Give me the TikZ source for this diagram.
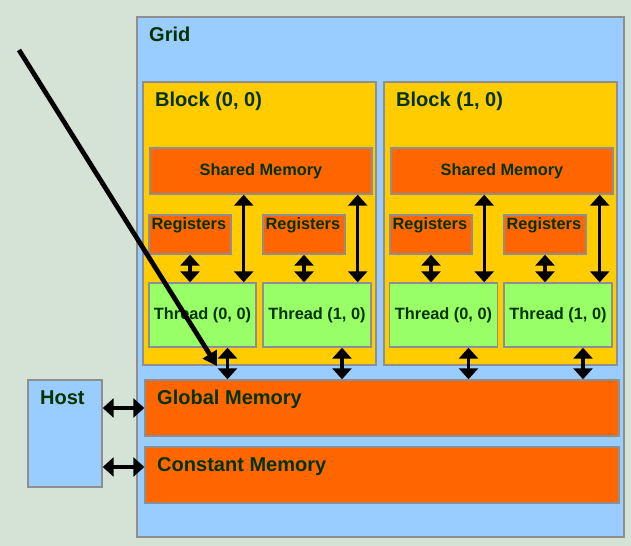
\documentclass[tikz,border=0pt]{standalone}
\usepackage{fontspec}
\setmainfont{Liberation Sans}
\usetikzlibrary{arrows.meta, positioning}
\definecolor{paper}{HTML}{D4E3D5}
\definecolor{gridblue}{HTML}{99CCFF}
\definecolor{blockyellow}{HTML}{FFCC00}
\definecolor{memorange}{HTML}{FF6600}
\definecolor{threadgreen}{HTML}{99FF66}
\definecolor{ink}{HTML}{003300}
\definecolor{edgegray}{HTML}{8F8F8F}

\begin{document}
\begin{tikzpicture}[x=0.02cm, y=-0.02cm,
    box/.style={draw=edgegray, line width=0.8pt, rectangle, inner sep=0pt},
    big/.style={text=ink, inner sep=0pt, font=\bfseries\fontsize{11.4}{13}\selectfont},
    small/.style={text=ink, font=\bfseries\fontsize{9.3}{11}\selectfont},
    title/.style={label={[big, anchor=base west, xshift=0.25cm, yshift=-0.5cm]north west:{#1}}},
    regtitle/.style={label={[small, inner sep=0pt, anchor=base west, xshift=0.06cm, yshift=-0.31cm]north west:Registers}},
    dbl/.style={{Triangle[width=0.38cm, length=0.22cm]}-{Triangle[width=0.38cm, length=0.22cm]}, line width=1.9pt},
    pointer/.style={-{Triangle[width=0.32cm, length=0.28cm]}, line width=2.7pt}]
	  \fill[paper] (0,0) rectangle (631,546);
	  % grid and host
	  \node at (380.5,277) (grid) [box, fill=gridblue, minimum width=9.74cm, minimum height=10.4cm, title=Grid]{};
	  \node at (65,433.5) (host) [box, fill=gridblue, minimum width=1.48cm, minimum height=2.14cm, title=Host]{};
	  % block (0, 0)
	  \node at (259.5,223.5) (blk0) [box, fill=blockyellow, minimum width=4.66cm, minimum height=5.66cm, title={Block (0, 0)}]{};
	  \node at (261,171) (shm0) [box, fill=memorange, minimum width=4.44cm, minimum height=0.92cm, small]{Shared Memory};
	  \node at (190,234.5) (reg00) [box, fill=memorange, minimum width=1.64cm, minimum height=0.78cm, regtitle]{};
	  \node at (304,234.5) (reg01) [box, fill=memorange, minimum width=1.64cm, minimum height=0.78cm, regtitle]{};
	  \node at (202.5,315) (thr00) [box, fill=threadgreen, minimum width=2.14cm, minimum height=1.28cm, small]{Thread (0, 0)};
	  \node at (317,315) (thr01) [box, fill=threadgreen, minimum width=2.16cm, minimum height=1.28cm, small]{Thread (1, 0)};
	  % block (1, 0)
	  \node at (500.5,223.5) (blk1) [box, fill=blockyellow, minimum width=4.66cm, minimum height=5.66cm, title={Block (1, 0)}]{};
	  \node at (502,171) (shm1) [box, fill=memorange, minimum width=4.44cm, minimum height=0.92cm, small]{Shared Memory};
	  \node at (431,234.5) (reg10) [box, fill=memorange, minimum width=1.64cm, minimum height=0.78cm, regtitle]{};
	  \node at (545,234.5) (reg11) [box, fill=memorange, minimum width=1.64cm, minimum height=0.78cm, regtitle]{};
	  \node at (443.5,315) (thr10) [box, fill=threadgreen, minimum width=2.16cm, minimum height=1.28cm, small]{Thread (0, 0)};
	  \node at (558,315) (thr11) [box, fill=threadgreen, minimum width=2.16cm, minimum height=1.28cm, small]{Thread (1, 0)};
	  % device memories
	  \node at (382,408) (glob) [box, fill=memorange, minimum width=9.48cm, minimum height=1.12cm, title=Global Memory]{};
	  \node at (382,475) (cnst) [box, fill=memorange, minimum width=9.48cm, minimum height=1.12cm, title=Constant Memory]{};
	  % registers and shared memory
	  \draw[dbl](reg00.south) -- (reg00.south |- thr00.north);
	  \draw[dbl](reg01.south) -- (reg01.south |- thr01.north);
	  \draw[dbl](reg10.south) -- (reg10.south |- thr10.north);
	  \draw[dbl](reg11.south) -- (reg11.south |- thr11.north);
	  \draw[dbl]([xshift=-0.26cm]thr00.north east) -- ([xshift=-0.26cm]thr00.north east |- shm0.south);
	  \draw[dbl]([xshift=-0.28cm]thr01.north east) -- ([xshift=-0.28cm]thr01.north east |- shm0.south);
	  \draw[dbl]([xshift=-0.28cm]thr10.north east) -- ([xshift=-0.28cm]thr10.north east |- shm1.south);
	  \draw[dbl]([xshift=-0.26cm]thr11.north east) -- ([xshift=-0.26cm]thr11.north east |- shm1.south);
	  % threads to global memory
	  \draw[dbl]([xshift=0.5cm]thr00.south) -- ([xshift=0.5cm]thr00.south |- glob.north);
	  \draw[dbl]([xshift=0.5cm]thr01.south) -- ([xshift=0.5cm]thr01.south |- glob.north);
	  \draw[dbl]([xshift=0.5cm]thr10.south) -- ([xshift=0.5cm]thr10.south |- glob.north);
	  \draw[dbl]([xshift=0.5cm]thr11.south) -- ([xshift=0.5cm]thr11.south |- glob.north);
	  % host
	  \draw[dbl](host.east |- glob.west) -- (glob.west);
	  \draw[dbl]([yshift=0.16cm]cnst.west -| host.east) -- ([yshift=0.16cm]cnst.west);
	  % pointer
	  \coordinate (pen) at (19,50);
	  \coordinate (tip) at (217,366);
	  \draw[pointer](pen) -- (tip);
	\end{tikzpicture}
\end{document}
